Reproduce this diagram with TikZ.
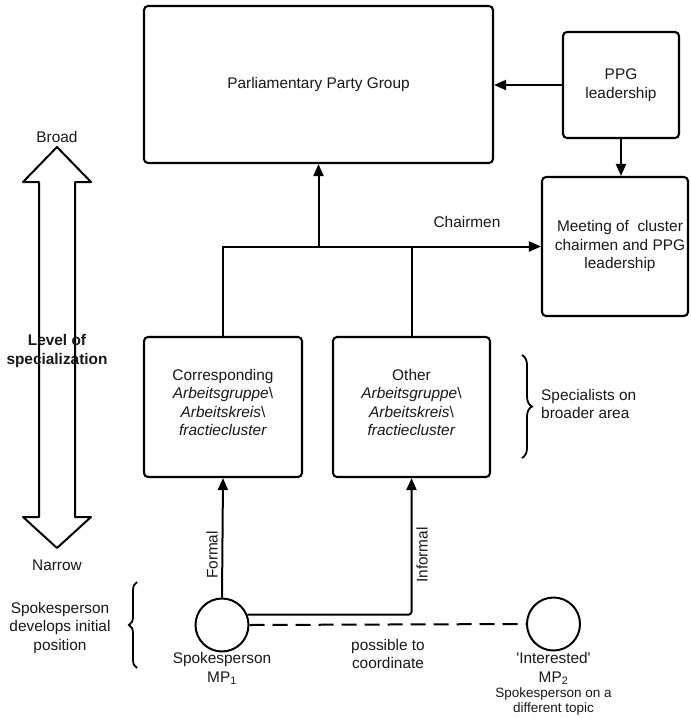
\documentclass[tikz,border=0pt]{standalone}
\usepackage{fontspec}
\setmainfont{Liberation Sans}
\usetikzlibrary{arrows.meta,decorations.pathreplacing}

\tikzset{
  box/.style={draw, line width=2.1pt, rounded corners=4pt, rectangle,
    align=center, inner sep=2pt},
  mp/.style={draw, line width=2pt, circle, minimum size=53pt, inner sep=0pt},
  arr/.style={line width=2pt, -{Triangle[length=12pt,width=10pt]}},
  link/.style={line width=2pt},
  lbl/.style={align=center, inner sep=0pt},
  brc/.style={draw, line width=1.8pt, decorate,
    decoration={brace, amplitude=#1}},
  every node/.style={font=\fontsize{15.4pt}{18.5pt}\selectfont, text=black!90}
}

\begin{document}
\begin{tikzpicture}[x=1pt, y=-1pt]
\useasboundingbox[fill=white] (0,0) rectangle (691,718);

% boxes
\node[box, minimum width=349pt, minimum height=157pt] (ppg) at (318.5,84.5)
  {Parliamentary Party Group};
\node[box, minimum width=116pt, minimum height=106pt] (lead) at (621,85)
  {PPG\\leadership};
\node[box, minimum width=146pt, minimum height=139pt] (meet) at (615,246.5) {};
\node[box, minimum width=158pt, minimum height=140pt] (lb) at (223,407) {};
\node[box, minimum width=157pt, minimum height=140pt] (rb) at (411.5,407) {};

% box texts
\node[lbl] (meett) at ([xshift=5pt]meet.center)
  {Meeting of\ \ cluster\\chairmen and PPG\\leadership};
\node[lbl] (lbt) at ([yshift=4.5pt]lb.center)
  {Corresponding\\\textit{Arbeitsgruppe}\textbackslash\\\textit{Arbeitskreis}\textbackslash\\\textit{fractiecluster}};
\node[lbl] (rbt) at ([yshift=4.5pt]rb.center)
  {Other\\\textit{Arbeitsgruppe}\textbackslash\\\textit{Arbeitskreis}\textbackslash\\\textit{fractiecluster}};

% spokespersons
\node[mp] (mp1) at (222,625) {};
\node[mp] (mp2) at (553.5,624) {};

% connectors
\coordinate (jn) at (ppg.south |- meet.west);
\draw[arr] (lead.west) -- (lead.west -| ppg.east);
\draw[arr] (lead.south) -- (lead.south |- meet.north);
\draw[arr] (lb.north) |- (meet.west);
\draw[link] (rb.north) -- (rb.north |- meet.west);
\draw[arr] (jn) -- (ppg.south);
\draw[arr] (mp1.north) -- (lb.south);
\draw[arr, rounded corners=3pt] (mp1.22) -| (rb.south);
\draw[link, dash pattern=on 15pt off 8pt] (mp1.east) -- (mp2.west);

% level of specialization scale
\draw[line width=2pt, line join=round]
  (57,147) -- (91,182) -- (75,182) -- (75,517) -- (91,517) -- (57,548)
  -- (23,517) -- (39,517) -- (39,182) -- (23,182) -- cycle;
\node[lbl] (broad) at (57,137) {Broad};
\node[lbl] (narrow) at (57,565) {Narrow};
\node[lbl, font=\fontsize{15.4pt}{18.5pt}\selectfont\bfseries] (level) at (57,351)
  {Level of\\specialization};

% braces
\draw[brc=10pt] (522,355) -- (522,458);
\draw[brc=8pt] (137,668) -- (137,582);

% labels
\node[lbl] (chair) at (467,222) {Chairmen};
\node[lbl, anchor=west, align=left] (spec) at (541,404)
  {Specialists on\\broader area};
\node[lbl] (dev) at (60,628) {Spokesperson\\develops initial\\position};
\node[lbl, rotate=90] (formal) at (212,555) {Formal};
\node[lbl, rotate=90] (informal) at (422,555) {Informal};
\node[lbl] (coord) at (388,654) {possible to\\coordinate};
\node[lbl] (mp1l) at (222,668.5) {Spokesperson\\MP\textsubscript{1}};
\node[lbl] (mp2l) at (553.5,668.5)
  {\textquotesingle Interested\textquotesingle\\MP\textsubscript{2}};
\node[lbl, font=\fontsize{13.5pt}{14.5pt}\selectfont] (mp2d) at (553.5,701.5)
  {Spokesperson on a\\different topic};
\end{tikzpicture}
\end{document}
